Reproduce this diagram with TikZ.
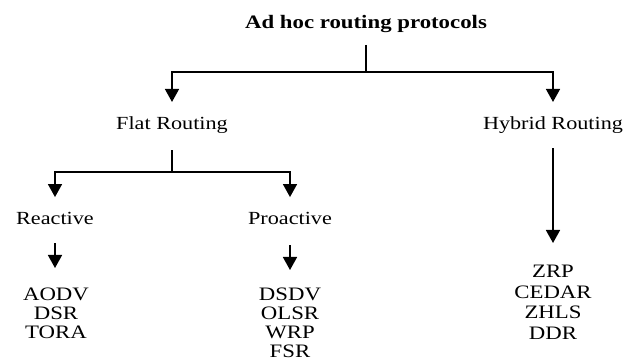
\documentclass[tikz,border=0pt]{standalone}
\usepackage{fontspec}
\setmainfont{Liberation Serif}[FakeStretch=1.2]
\usetikzlibrary{arrows.meta,positioning}

\begin{document}
\begin{tikzpicture}[x=1pt,y=-1pt]

\tikzset{heading/.style = {anchor=base,inner sep=0pt,font=\fontsize{18.5}{18.5}\selectfont}}
\tikzset{protolist/.style = {anchor=north,inner sep=0pt,align=center,font=\fontsize{19}{19}\selectfont}}
\tikzset{link/.style = {line width=1.6pt}}
\tikzset{edge/.style = {link,-{Triangle[width=14pt,length=13pt]}}}

\useasboundingbox (0,0) rectangle (632,363);

% vertices
\node[heading,font=\fontsize{19}{19}\selectfont\bfseries] (root) at (366,29) {Ad hoc routing protocols};
\node[heading] (flat) at (172,130) {Flat Routing};
\node[heading] (hybrid) at (553,130) {Hybrid Routing};
\node[heading] (reactive) at (55,225) {Reactive};
\node[heading] (proactive) at (290,225) {Proactive};
\node[protolist] (rlist) at (56,288) {AODV\\DSR\\TORA};
\node[protolist] (plist) at (290,288) {DSDV\\OLSR\\WRP\\FSR};
\node[protolist,font=\fontsize{19}{20.5}\selectfont] (hlist) at (553,265) {ZRP\\CEDAR\\ZHLS\\DDR};

\coordinate (topj) at (366,72);
\coordinate (midj) at (172,172);

%edges
\draw[link,shorten <=11.5pt] (root.south) -- (topj);
\draw[edge,shorten >=15pt] (topj) -| (flat.north);
\draw[edge,shorten >=15pt] (topj) -| (hybrid.north);
\draw[link,shorten <=16pt] (flat.south) -- (midj);
\draw[edge,shorten >=15.5pt] (midj) -| (reactive.north);
\draw[edge,shorten >=15.5pt] (midj) -| (proactive.north);
\draw[edge,shorten <=18pt,shorten >=20pt] (reactive.south) -- (reactive.south |- rlist.north);
\draw[edge,shorten <=20pt,shorten >=18pt] (proactive.south) -- (proactive.south |- plist.north);
\draw[edge,shorten <=14pt,shorten >=22pt] (hybrid.south) -- (hybrid.south |- hlist.north);
\end{tikzpicture}
\end{document}
